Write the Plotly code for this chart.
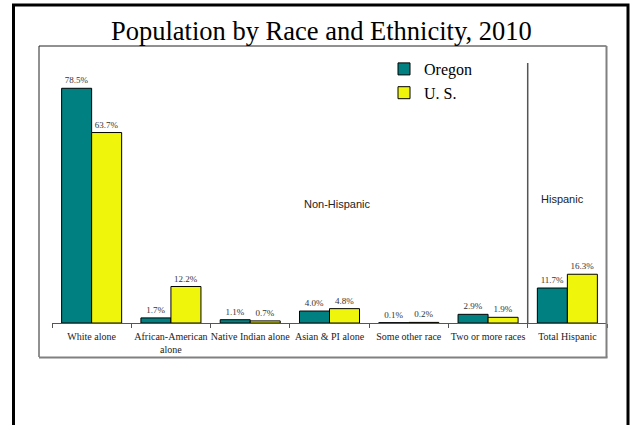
import plotly.graph_objects as go

categories = ["White alone", "African-American<br>alone", "Native Indian alone",
              "Asian & PI alone", "Some other race", "Two or more races", "Total Hispanic"]
oregon = [78.5, 1.7, 1.1, 4.0, 0.1, 2.9, 11.7]
us = [63.7, 12.2, 0.7, 4.8, 0.2, 1.9, 16.3]
series_names = ["Oregon", "U. S."]

W, H = 631, 425
ML, MR, MT, MB = 52, 24, 46, 102
PW, PH = W - ML - MR, H - MT - MB
PX_PER_PCT = 2.99
YMAX = PH / PX_PER_PCT

def px(x):
    return (x - ML) / PW

def py(y):
    return (H - MB - y) / PH

SERIF = "Liberation Serif, Times New Roman, serif"
SANS = "Liberation Sans, Arial, sans-serif"

fig = go.Figure()
for name, vals, col in [(series_names[0], oregon, "#008080"), (series_names[1], us, "#F0F50C")]:
    fig.add_trace(go.Bar(
        x=categories, y=vals, name=name,
        marker=dict(color=col, line=dict(color="black", width=1)),
        text=[f"{v:.1f}%" for v in vals], textposition="outside",
        textfont=dict(family=SERIF, size=9, color="#333333"),
        cliponaxis=False,
    ))

shapes = []
# slide border
shapes.append(dict(type="rect", xref="paper", yref="paper",
                   x0=px(13.5), x1=px(628), y0=py(5), y1=py(440),
                   line=dict(color="black", width=3), layer="below"))
# inner chart box: top/left thin black, right/bottom grey
shapes.append(dict(type="line", xref="paper", yref="paper", x0=px(39), x1=px(606.5), y0=py(46), y1=py(46),
                   line=dict(color="#222222", width=1)))
shapes.append(dict(type="line", xref="paper", yref="paper", x0=px(39), x1=px(39), y0=py(46), y1=py(357),
                   line=dict(color="#222222", width=1)))
shapes.append(dict(type="line", xref="paper", yref="paper", x0=px(606.5), x1=px(606.5), y0=py(46), y1=py(357.5),
                   line=dict(color="#808080", width=2)))
shapes.append(dict(type="line", xref="paper", yref="paper", x0=px(39), x1=px(607.5), y0=py(357.5), y1=py(357.5),
                   line=dict(color="#808080", width=2)))
# separator between non-Hispanic and Hispanic
shapes.append(dict(type="line", xref="x", yref="paper", x0=5.5, x1=5.5, y0=0, y1=py(63),
                   line=dict(color="#555555", width=1.5)))

annotations = [
    dict(text="Population by Race and Ethnicity, 2010", xref="paper", yref="paper",
         x=px(321), y=py(31), xanchor="center", yanchor="middle", showarrow=False,
         font=dict(family=SERIF, size=26.5, color="black")),
    dict(text="Non-Hispanic", xref="paper", yref="paper", x=px(337), y=py(204),
         xanchor="center", yanchor="middle", showarrow=False,
         font=dict(family=SANS, size=11, color="#222222")),
    dict(text="Hispanic", xref="paper", yref="paper", x=px(562), y=py(199),
         xanchor="center", yanchor="middle", showarrow=False,
         font=dict(family=SANS, size=11, color="#222222")),
]

fig.update_layout(
    width=W, height=H, margin=dict(l=ML, r=MR, t=MT, b=MB),
    paper_bgcolor="white", plot_bgcolor="white",
    barmode="group", bargap=0.243, bargroupgap=0,
    shapes=shapes, annotations=annotations,
    legend=dict(x=px(384), y=py(52), xanchor="left", yanchor="top",
                font=dict(family=SERIF, size=16, color="black"),
                bgcolor="rgba(0,0,0,0)", itemwidth=30, tracegroupgap=0),
    showlegend=True,
)
fig.update_xaxes(type="category", showline=True, linecolor="#555555", linewidth=1,
                 ticks="outside", tickson="boundaries", ticklen=4, tickcolor="#555555",
                 tickangle=0, ticklabelstandoff=4,
                 tickfont=dict(family=SERIF, size=10, color="#222222"),
                 showgrid=False, zeroline=False, fixedrange=True)
fig.update_yaxes(range=[0, YMAX], visible=False, showgrid=False, zeroline=False)

fig.write_html("out.html", config={"displayModeBar": False},
               post_script="document.body.style.margin='0';document.body.style.overflow='hidden';")
